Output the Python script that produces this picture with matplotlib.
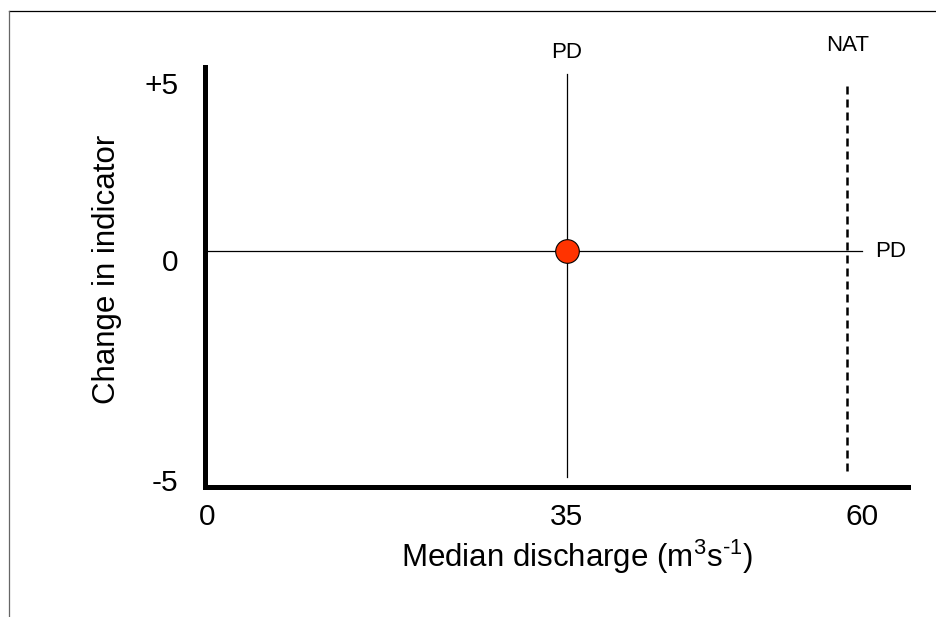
import numpy as np
import matplotlib
matplotlib.use("Agg")
import matplotlib.pyplot as plt
import matplotlib.transforms as mtransforms
from matplotlib.lines import Line2D

plt.rcParams['font.family'] = ['Liberation Sans', 'DejaVu Sans']
plt.rcParams['mathtext.fontset'] = 'custom'
plt.rcParams['mathtext.rm'] = 'Liberation Sans'
plt.rcParams['mathtext.it'] = 'Liberation Sans:italic'

# schematic values
discharge_ticks = [0, 35, 60]
discharge_labels = ['0', '35', '60']
change_ticks = [-5, 0, 5]
change_labels = ['-5', '0', '+5']

pd_discharge = 35
pd_change = 0
nat_discharge = 58.7
pd_vline_range = [-5.14, 5.0]
nat_vline_range = [-5.0, 4.77]
pd_hline_range = [-0.2, 60]

# the drawing is a sketch, so the axes are not evenly spaced: piecewise scales
x_vals = [-20, 0, 35, 60, 90]
x_pix = [2 - 205.8, 2, 362, 657, 657 + 354]
y_vals = [-20, -5, 0, 5, 20]
y_pix = [146 - 660, 146, 366, 543, 543 + 531]

def xf(v):
    return np.interp(v, x_vals, x_pix)

def xi(p):
    return np.interp(p, x_pix, x_vals)

def yf(v):
    return np.interp(v, y_vals, y_pix)

def yi(p):
    return np.interp(p, y_pix, y_vals)

fig = plt.figure(figsize=(9.36, 6.17), dpi=100)
ax = fig.add_axes([205 / 936, 130 / 617, 703 / 936, 420 / 617])
ax.set_xscale('function', functions=(xf, xi))
ax.set_yscale('function', functions=(yf, yi))
ax.set_xlim(-0.19, 63.9)
ax.set_ylim(-5.36, 5.2)

# reference lines
ax.plot([pd_discharge, pd_discharge], pd_vline_range, color='black', lw=0.9)
ax.plot(pd_hline_range, [pd_change, pd_change], color='black', lw=0.9)
ax.plot([nat_discharge, nat_discharge], nat_vline_range, color='black',
        lw=1.8, dashes=(3.2, 2))
ax.plot([pd_discharge], [pd_change], marker='o', markersize=17,
        markerfacecolor='#FF3300', markeredgecolor='black', markeredgewidth=0.8,
        linestyle='none', zorder=5)

ax.text(pd_discharge, 5.62, 'PD', ha='center', va='center', fontsize=16, clip_on=False)
ax.text(nat_discharge + 0.1, 5.8, 'NAT', ha='center', va='center', fontsize=16, clip_on=False)
ax.text(61.1, pd_change, 'PD', ha='left', va='center', fontsize=16, clip_on=False)

# axes styling
for s in ['top', 'right']:
    ax.spines[s].set_visible(False)
for s in ['left', 'bottom']:
    ax.spines[s].set_linewidth(3.6)

ax.set_xticks(discharge_ticks)
ax.set_xticklabels(discharge_labels)
ax.set_yticks(change_ticks)
ax.set_yticklabels(change_labels)
ax.minorticks_off()
ax.tick_params(axis='both', length=0, labelsize=21.5)
ax.tick_params(axis='x', pad=11.5)
ax.tick_params(axis='y', pad=19)
shift = mtransforms.ScaledTranslation(0, -9 / 100, fig.dpi_scale_trans)
for lab in ax.get_yticklabels():
    lab.set_transform(lab.get_transform() + shift)

ax.set_xlabel('Median discharge (m$^3$s$^{\\text{-}1}$)', fontsize=22.5)
ax.set_ylabel('Change in indicator', fontsize=22.5)
ax.xaxis.label.set_verticalalignment('center')
ax.yaxis.label.set_verticalalignment('center')
ax.xaxis.set_label_coords(0.529, -0.167)
ax.yaxis.set_label_coords(-0.139, 0.517)

# outer frame lines of the original slide
fig.add_artist(Line2D([9 / 936, 1], [1 - 11 / 617, 1 - 11 / 617],
                      transform=fig.transFigure, color='black', lw=0.9))
fig.add_artist(Line2D([9 / 936, 9 / 936], [0, 1 - 11 / 617],
                      transform=fig.transFigure, color='#666666', lw=0.9))

fig.savefig('out.png', dpi=100)
